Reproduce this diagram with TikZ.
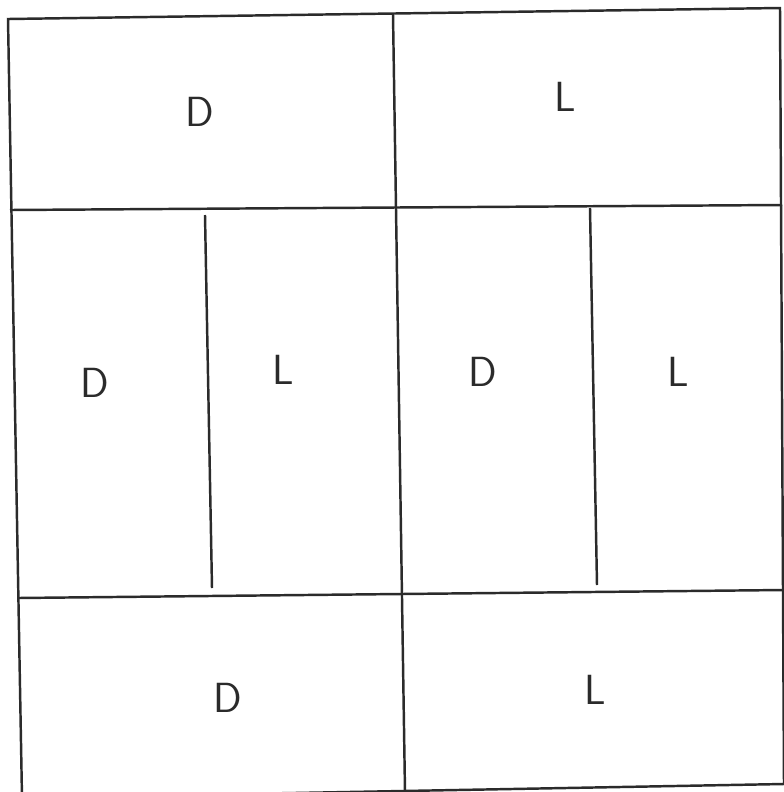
\documentclass[tikz,border=0pt]{standalone}
\usepackage{tikz}
\usetikzlibrary{positioning}
\definecolor{penline}{HTML}{2B2B2B}

\begin{document}
\begin{tikzpicture}[x=0.02cm, y=-0.02cm]
      \useasboundingbox (0,0) rectangle (784,792);
      \tikzset{wall/.style={draw=penline, line width=1.4pt},
        letter/.style={font=\sffamily\fontsize{24}{28}\selectfont, text=penline}}
      % outer frame
      \draw[wall] (8,19) -- (780,8) -- (784,784) -- (22,798) -- cycle;
      % main splits
      \draw[wall] (10,210) -- (782,205);
      \draw[wall] (18,598) -- (784,590);
      \draw[wall] (393,14) -- (405,792);
      \draw[wall] (205,215) -- (212,588);
      \draw[wall] (590,208) -- (597,585);
      % labels
      \foreach \name/\x/\y/\txt in {d1/200/112/D, l1/565/97/L, d2/95/383/D, l2/283/370/L,
          d3/483/372/D, l3/678/372/L, d4/228/698/D, l4/595/690/L} {
        \node[letter] (\name) at (\x,\y) {\txt};
      }
      \end{tikzpicture}
\end{document}
